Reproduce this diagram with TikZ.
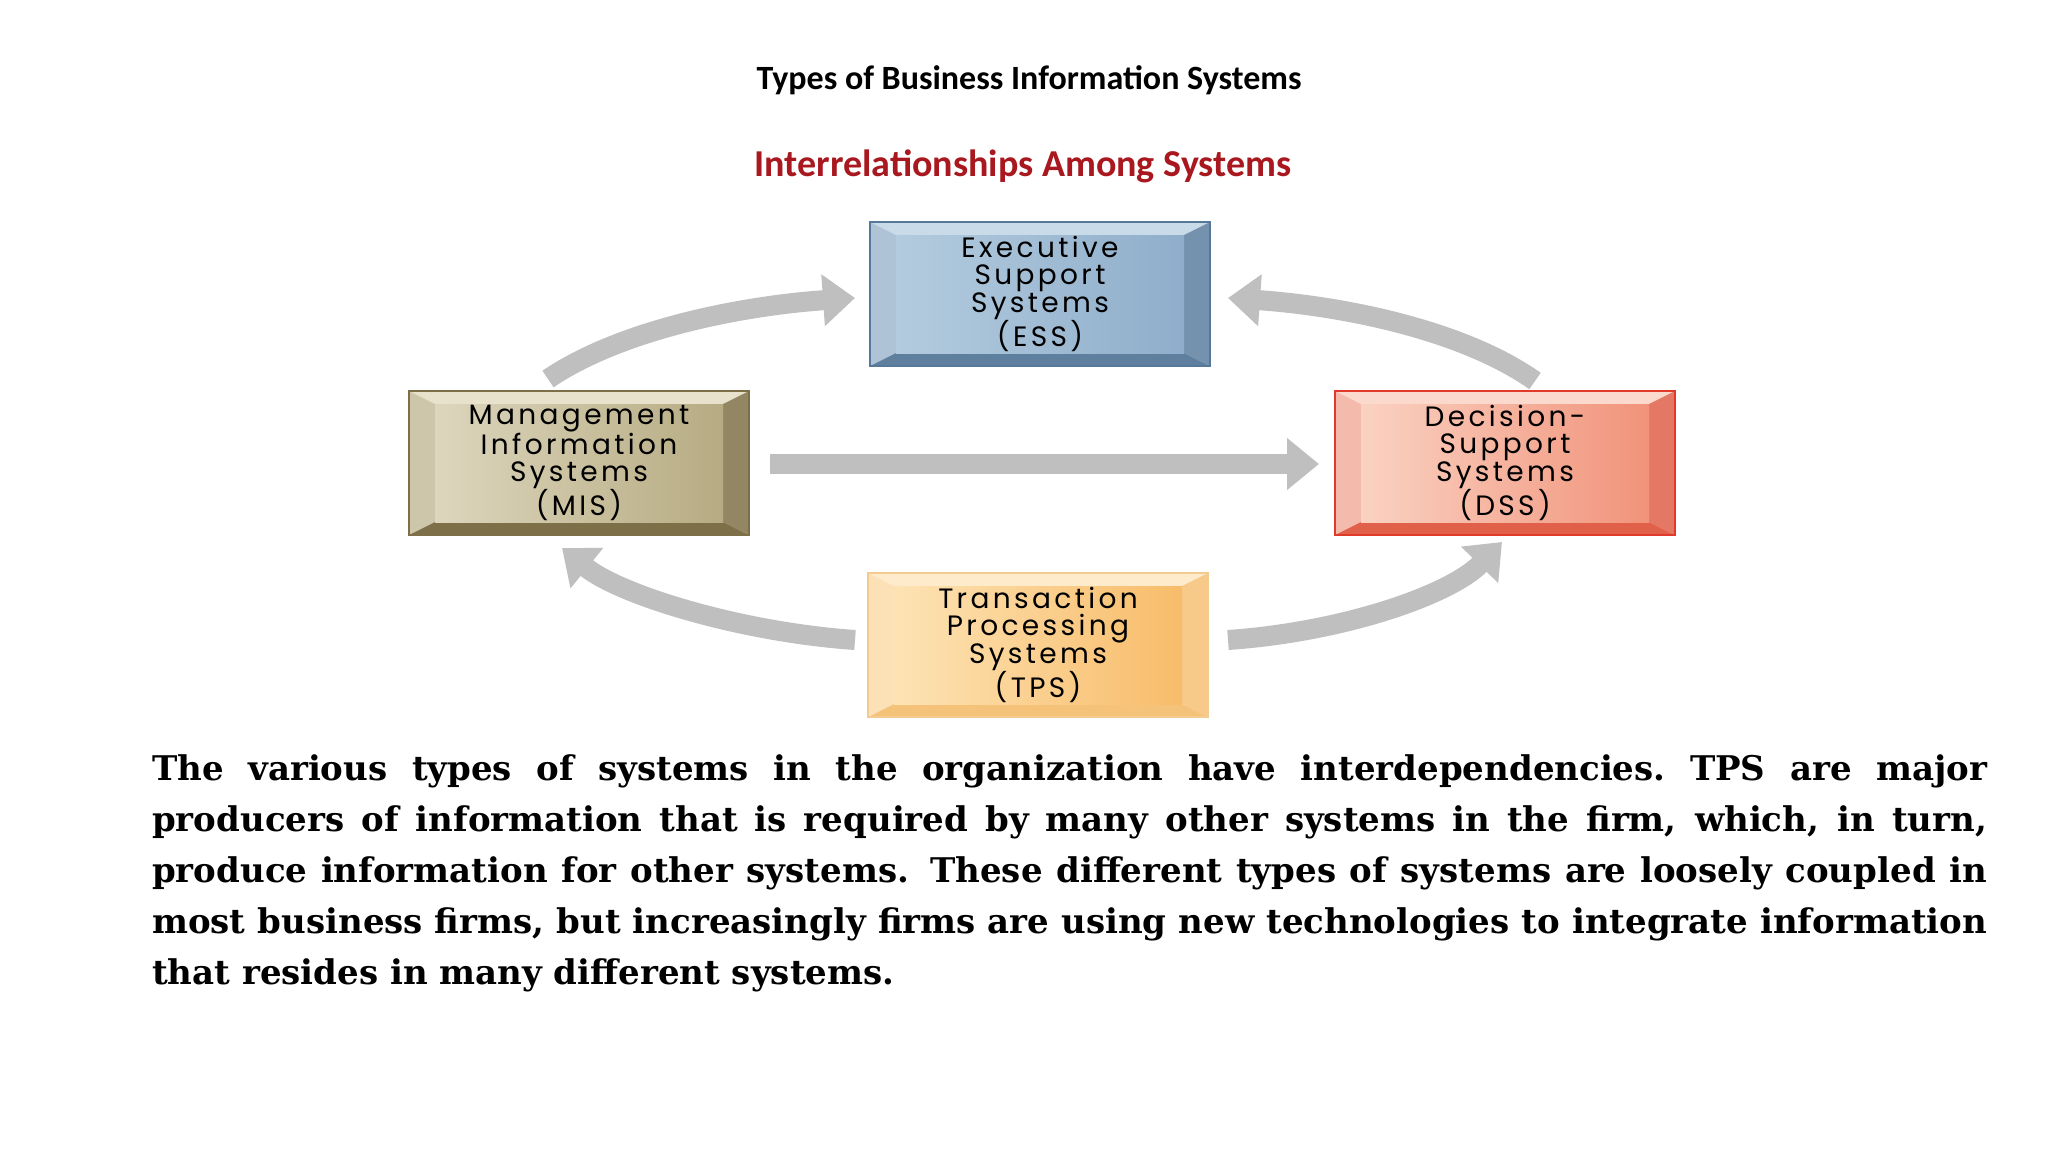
\documentclass[tikz,border=0pt]{standalone}
\usepackage{fontspec}
\setmainfont{DejaVu Serif}
\newfontfamily\titlefont{Carlito}
\newfontfamily\boxfont[LetterSpace=12]{Poppins}
\usetikzlibrary{arrows.meta}
\definecolor{subred}{HTML}{A8181E}
\definecolor{essA}{HTML}{B3CBDE}\definecolor{essB}{HTML}{8FAECB}\definecolor{essC}{HTML}{C9DAE8}\definecolor{essD}{HTML}{5E7F9E}\definecolor{essE}{HTML}{56789A}
\definecolor{misA}{HTML}{DDD6BD}\definecolor{misB}{HTML}{B6AB82}\definecolor{misC}{HTML}{E8E2CC}\definecolor{misD}{HTML}{7D7048}\definecolor{misE}{HTML}{7D7048}
\definecolor{dssA}{HTML}{FAD2C2}\definecolor{dssB}{HTML}{F1937A}\definecolor{dssC}{HTML}{FBD9CC}\definecolor{dssD}{HTML}{E0604A}\definecolor{dssE}{HTML}{E03A2A}
\definecolor{tpsA}{HTML}{FDE3B4}\definecolor{tpsB}{HTML}{F8BC6A}\definecolor{tpsC}{HTML}{FEEBCB}\definecolor{tpsD}{HTML}{F5C27A}\definecolor{tpsE}{HTML}{F3CB8E}
\newcommand\bevbox[5]{%
\begin{scope}[shift={(#2,#3)}]
\fill[#4C] (-170,-72)--(170,-72)--(144,-59)--(-144,-59)--cycle;
\fill[#4C!75!#4D] (-170,-72)--(-144,-59)--(-144,59)--(-170,72)--cycle;
\fill[#4D!80!#4C] (170,-72)--(144,-59)--(144,59)--(170,72)--cycle;
\fill[#4D] (-170,72)--(170,72)--(144,59)--(-144,59)--cycle;
\shade[left color=#4A,right color=#4B] (-144,-59) rectangle (144,59);
\draw[#4E,line width=2] (-170,-72) rectangle (170,72);
\end{scope}
\node[boxtext] (#1) at (#2,#3) {#5};}
\tikzset{
 boxtext/.style={minimum width=340,minimum height=145,align=center,font=\boxfont\fontsize{28}{27}\selectfont,text=black,inner sep=0},
 flow/.style={line width=20,draw=gray!50,-{Triangle[width=50,length=32]}}
}
\begin{document}
\begin{tikzpicture}[x=1pt,y=-1pt]
\fill[white] (0,0) rectangle (2048,1152);
\useasboundingbox (0,0) rectangle (2048,1152);
\node[font=\titlefont\bfseries\fontsize{34}{38}\selectfont] (title) at (1029,80) {Types of Business Information Systems};
\node[font=\titlefont\bfseries\fontsize{38}{42}\selectfont,text=subred] (sub) at (1023,166) {Interrelationships Among Systems};
\bevbox{ess}{1040}{294}{ess}{Executive\\Support\\Systems\\(ESS)}
\bevbox{mis}{579}{463}{mis}{Management\\Information\\Systems\\(MIS)}
\bevbox{dss}{1505}{463}{dss}{Decision-\\Support\\Systems\\(DSS)}
\bevbox{tps}{1038}{645}{tps}{Transaction\\Processing\\Systems\\(TPS)}
\coordinate (a1) at (548,379); \coordinate (a2) at (855,298);
\coordinate (b1) at (1535,381); \coordinate (b2) at (1228,298);
\coordinate (c1) at (770,464); \coordinate (c2) at (1319,464);
\coordinate (d1) at (855,640); \coordinate (d2) at (562,548);
\coordinate (e1) at (1228,640); \coordinate (e2) at (1502,542);
\draw[flow] (a1) .. controls (620,330) and (740,306) .. (a2);
\draw[flow] (b1) .. controls (1463,330) and (1343,306) .. (b2);
\draw[flow] (c1) -- (c2);
\draw[flow] (d1) .. controls (740,632) and (620,595) .. (d2);
\draw[flow] (e1) .. controls (1343,632) and (1450,595) .. (e2);
\node[anchor=north west,inner sep=0,align=left,font=\bfseries\fontsize{34}{51}\selectfont] (para) at (152,754) {\frenchspacing
\makebox[1835pt][s]{The various types of systems in the organization have interdependencies. TPS are major}\\
\makebox[1835pt][s]{producers of information that is required by many other systems in the firm, which, in turn,}\\
\makebox[1835pt][s]{produce information for other systems. These different types of systems are loosely coupled in}\\
\makebox[1835pt][s]{most business firms, but increasingly firms are using new technologies to integrate information}\\
that resides in many different systems.};
\end{tikzpicture}
\end{document}
